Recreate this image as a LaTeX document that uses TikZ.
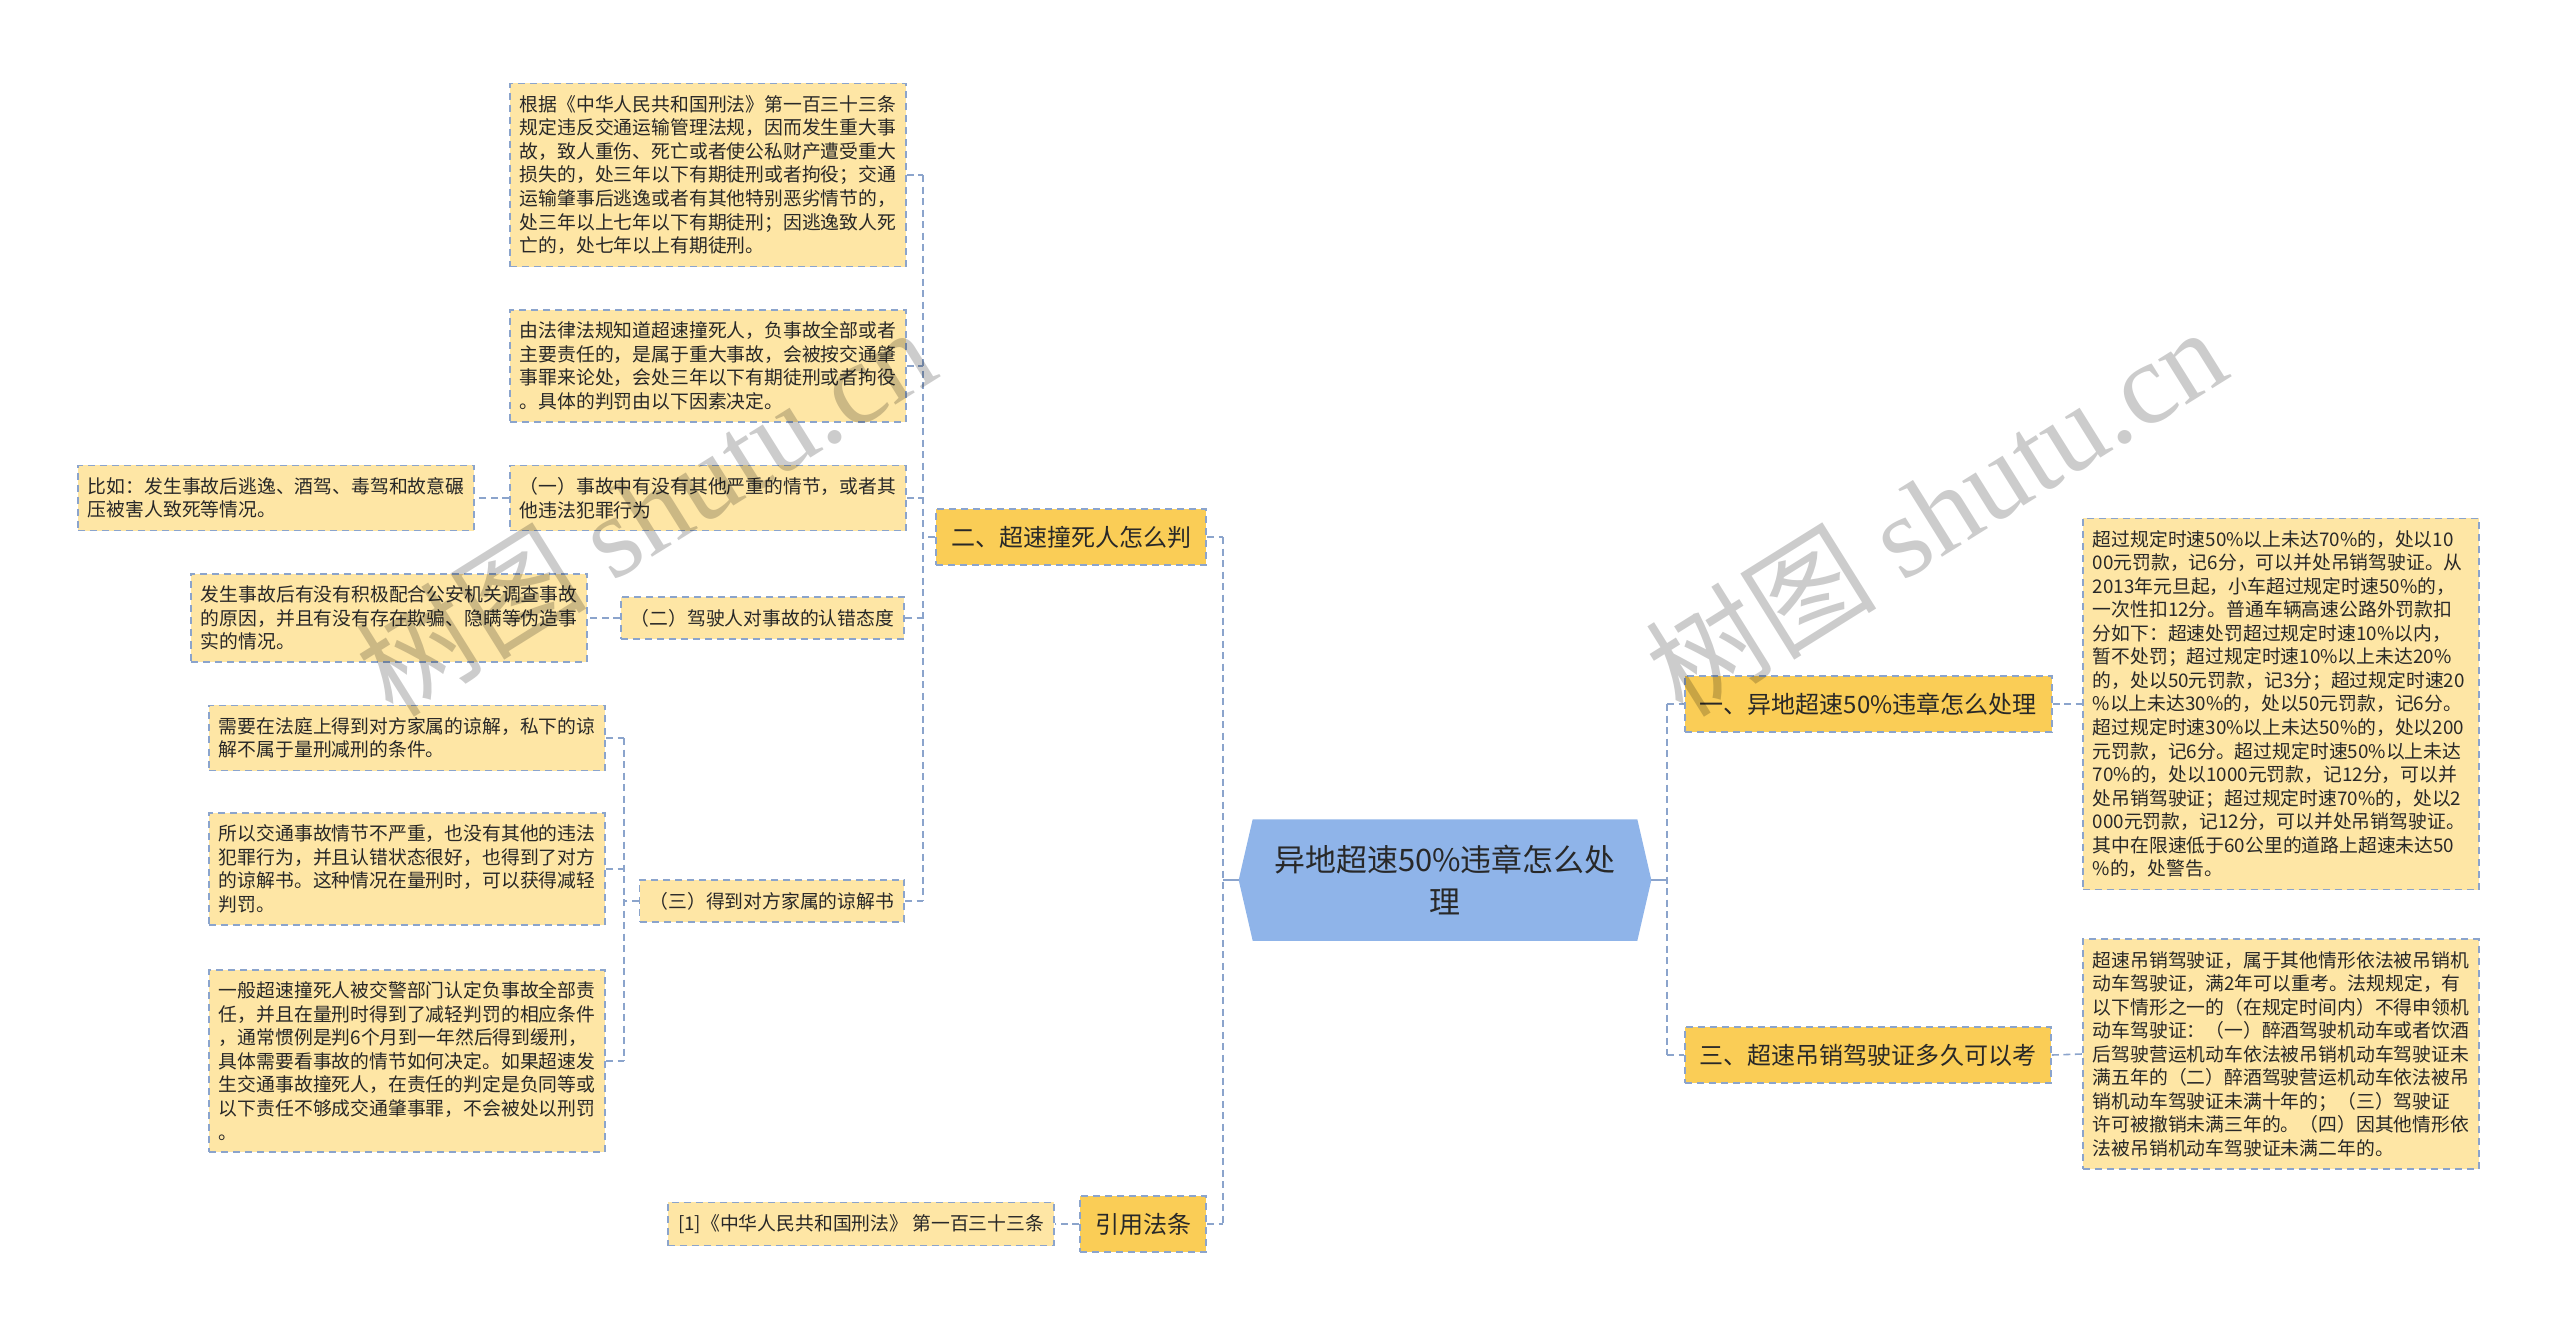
\documentclass[tikz,border=0pt]{standalone}
\usepackage{fontspec}
\setmainfont{Noto Sans CJK SC}
\newfontfamily\wmserif{Liberation Serif}
\usetikzlibrary{positioning,calc,backgrounds}
\definecolor{mline}{RGB}{139,164,204}
\definecolor{mleaf}{RGB}{254,230,165}
\definecolor{mgold}{RGB}{250,205,86}
\definecolor{mroot}{RGB}{143,180,233}
\definecolor{mtext}{RGB}{40,40,40}
\tikzset{
  leaf/.style  ={rectangle, draw=mline, dash pattern=on 0.07cm off 0.05cm, line width=0.45pt,
                 fill=mleaf, text=mtext, align=left, inner xsep=0.1cm, inner ysep=0.12cm,
                 font=\fontsize{5.35}{6.69}\selectfont},
  note/.style  ={leaf, text width=3.76cm},
  branch/.style={leaf, fill=mgold, inner xsep=0.15cm, minimum height=0.56cm,
                 font=\fontsize{6.83}{8.2}\selectfont},
  root/.style  ={rectangle, align=center, text=mtext, minimum width=4.11cm, minimum height=1.2cm,
                 font=\fontsize{8.8}{12.2}\selectfont},
  link/.style  ={draw=mline, line width=0.45pt, dash pattern=on 0.07cm off 0.045cm},
  stub/.style  ={draw=mline, line width=0.6pt},
  wmark/.style ={text=black, opacity=0.2, rotate=32, font=\fontsize{33}{33}\selectfont}
}

\begin{document}
\begin{tikzpicture}[x=0.01cm, y=-0.01cm]
\useasboundingbox (0,0) rectangle (2560,1333);

% centre
\node[root] (root) at (1445,880) {异地超速50\%违章怎么处\\理};

% left branches
\node[branch, anchor=east] (b2) at (1207,537) {二、超速撞死人怎么判};
\node[branch, anchor=east] (bref) at (1207,1224) {引用法条};

\node[note] (lawA) at (708,175)
  {根据《中华人民共和国刑法》第一百三十三条\\
   规定违反交通运输管理法规，因而发生重大事\\
   故，致人重伤、死亡或者使公私财产遭受重大\\
   损失的，处三年以下有期徒刑或者拘役；交通\\
   运输肇事后逃逸或者有其他特别恶劣情节的，\\
   处三年以上七年以下有期徒刑；因逃逸致人死\\
   亡的，处七年以上有期徒刑。};
\node[note] (lawB) at (708,366)
  {由法律法规知道超速撞死人，负事故全部或者\\
   主要责任的，是属于重大事故，会被按交通肇\\
   事罪来论处，会处三年以下有期徒刑或者拘役\\
   。具体的判罚由以下因素决定。};
\node[note] (p1) at (708,498)
  {（一）事故中有没有其他严重的情节，或者其\\
   他违法犯罪行为};
\node[leaf, anchor=east] (p2) at (905,618) {（二）驾驶人对事故的认错态度};
\node[leaf, anchor=east] (p3) at (905,901) {（三）得到对方家属的谅解书};

\node[note, anchor=east] (ex1) at (475,498)
  {比如：发生事故后逃逸、酒驾、毒驾和故意碾\\
   压被害人致死等情况。};
\node[note, anchor=east] (ex2) at (588,618)
  {发生事故后有没有积极配合公安机关调查事故\\
   的原因，并且有没有存在欺骗、隐瞒等伪造事\\
   实的情况。};

\node[note, anchor=east] (d1) at (606,738)
  {需要在法庭上得到对方家属的谅解，私下的谅\\
   解不属于量刑减刑的条件。};
\node[note, anchor=east] (d2) at (606,869)
  {所以交通事故情节不严重，也没有其他的违法\\
   犯罪行为，并且认错状态很好，也得到了对方\\
   的谅解书。这种情况在量刑时，可以获得减轻\\
   判罚。};
\node[note, anchor=east] (d3) at (606,1061)
  {一般超速撞死人被交警部门认定负事故全部责\\
   任，并且在量刑时得到了减轻判罚的相应条件\\
   ，通常惯例是判6个月到一年然后得到缓刑，\\
   具体需要看事故的情节如何决定。如果超速发\\
   生交通事故撞死人，在责任的判定是负同等或\\
   以下责任不够成交通肇事罪，不会被处以刑罚\\
   。};

\node[leaf, anchor=east] (ref1) at (1055,1224) {[1]《中华人民共和国刑法》 第一百三十三条};

% right branches
\node[branch, anchor=west, minimum width=3.66cm] (b1) at (1684,704) {一、异地超速50\%违章怎么处理};
\node[branch, anchor=west, minimum width=3.66cm] (b3) at (1684,1055) {三、超速吊销驾驶证多久可以考};

\node[note, anchor=west] (noteC) at (2082,704)
  {超过规定时速50\%以上未达70\%的，处以10\\
   00元罚款，记6分，可以并处吊销驾驶证。从\\
   2013年元旦起，小车超过规定时速50\%的，\\
   一次性扣12分。普通车辆高速公路外罚款扣\\
   分如下：超速处罚超过规定时速10\%以内，\\
   暂不处罚；超过规定时速10\%以上未达20\%\\
   的，处以50元罚款，记3分；超过规定时速20\\
   \%以上未达30\%的，处以50元罚款，记6分。\\
   超过规定时速30\%以上未达50\%的，处以200\\
   元罚款，记6分。超过规定时速50\%以上未达\\
   70\%的，处以1000元罚款，记12分，可以并\\
   处吊销驾驶证；超过规定时速70\%的，处以2\\
   000元罚款，记12分，可以并处吊销驾驶证。\\
   其中在限速低于60公里的道路上超速未达50\\
   \%的，处警告。};
\node[note, anchor=west] (noteD) at (2082,1054)
  {超速吊销驾驶证，属于其他情形依法被吊销机\\
   动车驾驶证，满2年可以重考。法规规定，有\\
   以下情形之一的（在规定时间内）不得申领机\\
   动车驾驶证：（一）醉酒驾驶机动车或者饮酒\\
   后驾驶营运机动车依法被吊销机动车驾驶证未\\
   满五年的（二）醉酒驾驶营运机动车依法被吊\\
   销机动车驾驶证未满十年的；（三）驾驶证\\
   许可被撤销未满三年的。（四）因其他情形依\\
   法被吊销机动车驾驶证未满二年的。};

% hexagon behind the centre text
\begin{scope}[on background layer]
\fill[white] (0,0) rectangle (2560,1333);
\fill[mroot] (root.west) -- ($(root.north west)+(14,0)$) -- ($(root.north east)+(-14,0)$)
  -- (root.east) -- ($(root.south east)+(-14,0)$) -- ($(root.south west)+(14,0)$) -- cycle;
\end{scope}

% trunks
\coordinate (t0) at (1223,880);
\coordinate (t1) at (1667,880);
\coordinate (t2) at (923,537);
\coordinate (t3) at (624,901);

\draw[stub] (root.west) -- (t0);
\draw[link] (t0 |- b2.east) -- (t0 |- bref.east);
\draw[link] (b2.east) -- (t0 |- b2.east);
\draw[link] (bref.east) -- (t0 |- bref.east);

\draw[stub] (root.east) -- (t1);
\draw[link] (t1 |- b1.west) -- (t1 |- b3.west);
\draw[link] (t1 |- b1.west) -- (b1.west);
\draw[link] (t1 |- b3.west) -- (b3.west);
\draw[link] (b1.east) -- (noteC.west);
\draw[link] (b3.east) -- (noteD.west);

\draw[link] (b2.west) -- (t2);
\draw[link] (t2 |- lawA.east) -- (t2 |- p3.east);
\foreach \n in {lawA,lawB,p1,p2,p3}
  \draw[link] (\n.east) -- (t2 |- \n.east);
\draw[link] (p1.west) -- (ex1.east);
\draw[link] (p2.west) -- (ex2.east);

\draw[link] (p3.west) -- (t3);
\draw[link] (t3 |- d1.east) -- (t3 |- d3.east);
\foreach \n in {d1,d2,d3}
  \draw[link] (\n.east) -- (t3 |- \n.east);
\draw[link] (bref.west) -- (ref1.east);

% watermarks
\node[wmark] (wm1) at (645,510) {树图 {\wmserif shutu.cn}};
\node[wmark] (wm2) at (1935,510) {树图 {\wmserif shutu.cn}};
\end{tikzpicture}
\end{document}
